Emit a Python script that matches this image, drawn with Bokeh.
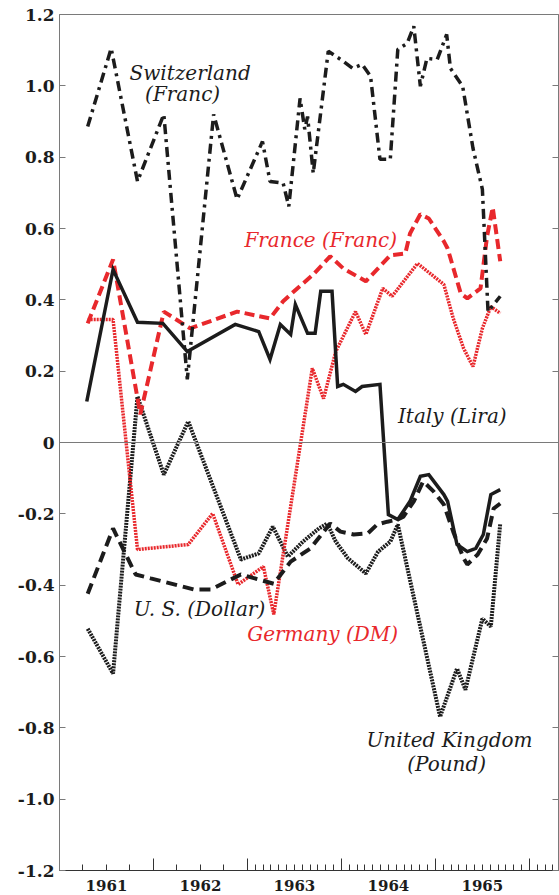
from bokeh.plotting import figure
from bokeh.models import Range1d, FixedTicker, LinearAxis, Span, Label
from bokeh.embed import file_html
from bokeh.resources import INLINE

# ---------------- data (decimal year, value) ----------------
swiss_year = [1961.30, 1961.55, 1961.83, 1962.11, 1962.36, 1962.64, 1962.89, 1963.16, 1963.24,
              1963.38, 1963.44, 1963.56, 1963.61, 1963.64, 1963.70, 1963.86, 1964.02, 1964.12,
              1964.22, 1964.31, 1964.41, 1964.52, 1964.60, 1964.70, 1964.77, 1964.84, 1964.91,
              1965.02, 1965.12, 1965.16, 1965.29, 1965.40, 1965.50, 1965.56, 1965.69]
swiss_value = [0.886, 1.105, 0.732, 0.920, 0.177, 0.920, 0.682, 0.844, 0.732,
               0.727, 0.662, 0.965, 0.878, 0.914, 0.755, 1.097, 1.069, 1.049,
               1.060, 1.027, 0.794, 0.794, 1.102, 1.119, 1.167, 0.999, 1.077,
               1.074, 1.144, 1.049, 0.999, 0.825, 0.710, 0.367, 0.410]

france_year = [1961.30, 1961.57, 1961.86, 1962.11, 1962.39, 1962.89, 1963.24, 1963.38, 1963.53,
               1963.70, 1963.88, 1964.02, 1964.26, 1964.41, 1964.52, 1964.68, 1964.73, 1964.84,
               1964.93, 1965.09, 1965.13, 1965.27, 1965.34, 1965.48, 1965.55, 1965.61, 1965.69]
france_value = [0.334, 0.513, 0.079, 0.367, 0.320, 0.367, 0.348, 0.396, 0.432,
                0.471, 0.522, 0.488, 0.452, 0.494, 0.525, 0.530, 0.586, 0.640,
                0.628, 0.564, 0.544, 0.418, 0.404, 0.432, 0.578, 0.659, 0.508]

italy_year = [1961.29, 1961.57, 1961.83, 1962.10, 1962.36, 1962.87, 1963.12, 1963.24, 1963.35,
              1963.46, 1963.51, 1963.64, 1963.72, 1963.78, 1963.90, 1963.96, 1964.02, 1964.15,
              1964.22, 1964.41, 1964.50, 1964.60, 1964.73, 1964.84, 1964.93, 1965.09, 1965.13,
              1965.23, 1965.34, 1965.43, 1965.51, 1965.59, 1965.69]
italy_value = [0.115, 0.485, 0.337, 0.334, 0.255, 0.331, 0.311, 0.233, 0.331,
               0.303, 0.387, 0.306, 0.306, 0.424, 0.424, 0.157, 0.163, 0.143,
               0.157, 0.163, -0.202, -0.216, -0.165, -0.095, -0.090, -0.146, -0.165,
               -0.286, -0.306, -0.297, -0.258, -0.146, -0.132]

us_year = [1961.30, 1961.57, 1961.81, 1961.97, 1962.43, 1962.61, 1962.93, 1963.28, 1963.46,
           1963.67, 1963.88, 1963.99, 1964.13, 1964.28, 1964.38, 1964.49, 1964.60, 1964.66,
           1964.77, 1964.87, 1964.98, 1965.09, 1965.19, 1965.30, 1965.34, 1965.45, 1965.55,
           1965.62, 1965.69]
us_value = [-0.424, -0.241, -0.370, -0.381, -0.412, -0.412, -0.370, -0.396, -0.334,
            -0.297, -0.227, -0.250, -0.258, -0.255, -0.230, -0.222, -0.216, -0.208,
            -0.165, -0.109, -0.137, -0.174, -0.250, -0.325, -0.342, -0.314, -0.269,
            -0.185, -0.171]

germany_year = [1961.30, 1961.57, 1961.83, 1962.37, 1962.63, 1962.90, 1963.17, 1963.28, 1963.69,
                1963.81, 1963.94, 1964.15, 1964.26, 1964.44, 1964.54, 1964.81, 1965.09, 1965.19,
                1965.30, 1965.40, 1965.50, 1965.59, 1965.69]
germany_value = [0.345, 0.345, -0.300, -0.286, -0.199, -0.398, -0.348, -0.482, 0.208,
                 0.123, 0.255, 0.367, 0.303, 0.432, 0.410, 0.502, 0.443, 0.348,
                 0.264, 0.213, 0.320, 0.381, 0.362]

uk_year = [1961.30, 1961.57, 1961.83, 1962.11, 1962.37, 1962.93, 1963.12, 1963.27, 1963.43,
           1963.59, 1963.76, 1963.85, 1963.94, 1964.07, 1964.26, 1964.39, 1964.52, 1964.60,
           1965.05, 1965.23, 1965.32, 1965.50, 1965.59, 1965.69]
uk_value = [-0.522, -0.648, 0.129, -0.090, 0.059, -0.328, -0.311, -0.236, -0.320,
            -0.278, -0.241, -0.227, -0.278, -0.325, -0.367, -0.306, -0.278, -0.230,
            -0.769, -0.634, -0.693, -0.494, -0.516, -0.227]

year_labels = ["1961", "1962", "1963", "1964", "1965"]
year_label_pos = [1961.5, 1962.5, 1963.5, 1964.5, 1965.5]
year_bounds = [1962, 1963, 1964, 1965, 1966]
y_ticks = [-1.2, -1.0, -0.8, -0.6, -0.4, -0.2, 0, 0.2, 0.4, 0.6, 0.8, 1.0, 1.2]
y_tick_labels = ["-1.2", "-1.0", "-0.8", "-0.6", "-0.4", "-0.2", "0",
                 "0.2", "0.4", "0.6", "0.8", "1.0", "1.2"]

# quarterly ticks for 1961-62, monthly from 1963
minor_x = [1961 + q / 4 for q in range(1, 8) if q != 4]
for yr in range(1963, 1967):
    for m in range(1, 12):
        minor_x.append(yr + m / 12)

RED = "#e8282c"
INK = "#1c1c1c"
GRAY = "#7a7a7a"
AXIS_FONT = "DejaVu Serif"
NOTE_FONT = "DejaVu Serif"

p = figure(width=559, height=895, output_backend="svg", toolbar_location=None,
           x_range=Range1d(1961.0, 1966.31), y_range=Range1d(-1.2, 1.2),
           min_border_left=59, min_border_top=14, min_border_right=1, min_border_bottom=25)
p.background_fill_color = "white"
p.border_fill_color = "white"
p.outline_line_color = GRAY
p.outline_line_width = 1
p.xgrid.visible = False
p.ygrid.visible = False

# bottom axis carrying the tick marks (labels not drawn)
xa = p.xaxis[0]
xa.ticker = FixedTicker(ticks=year_bounds, minor_ticks=minor_x)
xa.major_tick_in = 12
xa.major_tick_out = 0
xa.minor_tick_in = 6
xa.minor_tick_out = 0
xa.major_tick_line_color = "#333333"
xa.minor_tick_line_color = "#333333"
xa.axis_line_color = "#333333"
xa.major_label_text_font_size = "1px"
xa.major_label_text_color = None
xa.major_label_standoff = 0

# second bottom axis with the centred year labels
lab_axis = LinearAxis(ticker=FixedTicker(ticks=year_label_pos, minor_ticks=[]),
                      major_label_overrides=dict(zip(year_label_pos, year_labels)))
lab_axis.major_tick_in = 0
lab_axis.major_tick_out = 0
lab_axis.minor_tick_in = 0
lab_axis.minor_tick_out = 0
lab_axis.axis_line_color = None
lab_axis.major_label_standoff = 9
lab_axis.major_label_text_font = AXIS_FONT
lab_axis.major_label_text_font_size = "15px"
lab_axis.major_label_text_font_style = "bold"
lab_axis.major_label_text_color = INK
p.add_layout(lab_axis, "below")

ya = p.yaxis[0]
ya.ticker = FixedTicker(ticks=y_ticks, minor_ticks=[])
ya.major_label_overrides = dict(zip(y_ticks, y_tick_labels))
ya.major_tick_in = 6
ya.major_tick_out = 0
ya.minor_tick_in = 0
ya.minor_tick_out = 0
ya.axis_line_color = GRAY
ya.major_tick_line_color = GRAY
ya.major_label_standoff = 5
ya.major_label_text_font = AXIS_FONT
ya.major_label_text_font_size = "17px"
ya.major_label_text_font_style = "bold"
ya.major_label_text_color = INK

ra = LinearAxis(ticker=FixedTicker(ticks=y_ticks, minor_ticks=[]))
ra.major_tick_in = 6
ra.major_tick_out = 0
ra.minor_tick_in = 0
ra.minor_tick_out = 0
ra.axis_line_color = GRAY
ra.major_tick_line_color = GRAY
ra.major_label_text_font_size = "1px"
ra.major_label_text_color = None
ra.major_label_standoff = 0
p.add_layout(ra, "right")

p.add_layout(Span(location=0, dimension="width", line_color=GRAY, line_width=1))

# ---------------- series ----------------
p.line(uk_year, uk_value, line_color=INK, line_width=4, line_dash="2 1")
p.line(germany_year, germany_value, line_color=RED, line_width=3.5, line_dash="2 1")
p.line(us_year, us_value, line_color=INK, line_width=4, line_dash="11 6")
p.line(france_year, france_value, line_color=RED, line_width=4, line_dash="10 5")
p.line(swiss_year, swiss_value, line_color=INK, line_width=3.5, line_dash="10 5 3 5")
p.line(italy_year, italy_value, line_color=INK, line_width=3.5, line_join="miter")

# ---------------- annotations ----------------
def note(x, y, text, color=INK):
    p.add_layout(Label(x=x, y=y, text=text, text_font=NOTE_FONT, text_font_style="italic",
                       text_font_size="20px", text_color=color,
                       text_align="center", text_baseline="middle"))

note(1962.39, 1.035, "Switzerland")
note(1962.31, 0.976, "(Franc)")
note(1963.78, 0.569, "France (Franc)", RED)
note(1965.18, 0.073, "Italy (Lira)")
note(1962.49, -0.468, "U. S. (Dollar)")
note(1963.80, -0.536, "Germany (DM)", RED)
note(1965.15, -0.833, "United Kingdom")
note(1965.12, -0.900, "(Pound)")

open("out.html", "w").write(file_html(p, INLINE))
